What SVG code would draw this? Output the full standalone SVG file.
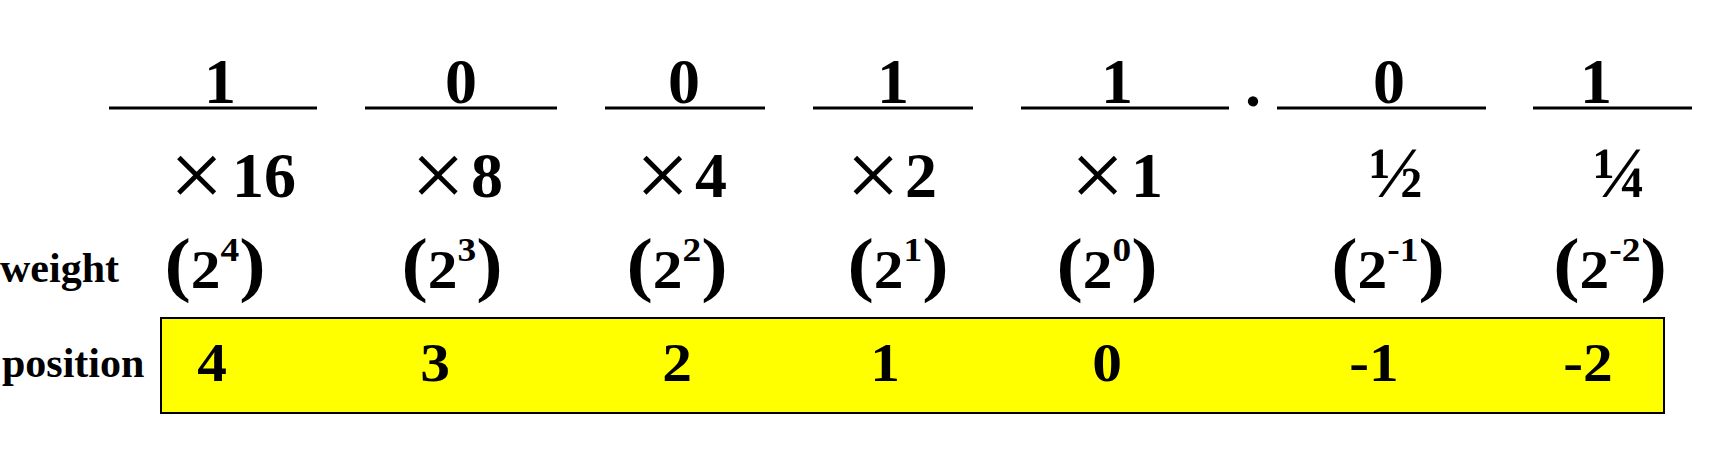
<svg xmlns="http://www.w3.org/2000/svg" width="1710" height="462" viewBox="0 0 1710 462">
<style>
.b{font-family:"Liberation Serif","Times New Roman",serif;font-weight:bold;fill:#000}
.dig{font-size:64px;text-anchor:middle}
.fr{font-size:72px;text-anchor:middle}
.x{font-family:"Liberation Serif","Times New Roman",serif;font-weight:normal;font-size:96px;fill:#000;text-anchor:middle}
.lbl{font-size:42px}
.pos{font-size:54px;text-anchor:middle}
.w{text-anchor:middle}
.p{font-size:72px}
.two{font-size:54px}
.sup{font-size:34px}
.ul{stroke:#000;stroke-width:3}
</style>
<rect width="1710" height="462" fill="#fff"/>
<g id="underlines">
<line class="ul" x1="109" y1="108" x2="317" y2="108"/>
<line class="ul" x1="365" y1="108" x2="557" y2="108"/>
<line class="ul" x1="605" y1="108" x2="765" y2="108"/>
<line class="ul" x1="813" y1="108" x2="973" y2="108"/>
<line class="ul" x1="1021" y1="108" x2="1229" y2="108"/>
<line class="ul" x1="1277" y1="108" x2="1486" y2="108"/>
<line class="ul" x1="1533" y1="108" x2="1692" y2="108"/>
</g>
<g id="bits">
<text class="b dig" x="220" y="103">1</text>
<text class="b dig" x="461" y="103">0</text>
<text class="b dig" x="684" y="103">0</text>
<text class="b dig" x="893" y="103">1</text>
<text class="b dig" x="1117" y="103">1</text>
<text class="b dig" x="1253" y="106">.</text>
<text class="b dig" x="1389" y="103">0</text>
<text class="b dig" x="1596" y="103">1</text>
</g>
<g id="multipliers">
<text class="x" x="196.5" y="207">×</text><text class="b dig" x="264" y="197">16</text>
<text class="x" x="438" y="207">×</text><text class="b dig" x="487" y="197">8</text>
<text class="x" x="662.5" y="207">×</text><text class="b dig" x="711" y="197">4</text>
<text class="x" x="873" y="207">×</text><text class="b dig" x="921" y="197">2</text>
<text class="x" x="1097.5" y="207">×</text><text class="b dig" x="1147" y="197">1</text>
<text class="b fr" x="1396" y="197">½</text>
<text class="b fr" x="1620" y="197">¼</text>
</g>
<g id="weights">
<text class="b lbl" x="0" y="282">weight</text>
<text class="b w" transform="translate(215,288) scale(1.1,1)"><tspan class="p">(</tspan><tspan class="two">2</tspan><tspan class="sup" dy="-27">4</tspan><tspan class="p" dy="27">)</tspan></text>
<text class="b w" transform="translate(452,288) scale(1.1,1)"><tspan class="p">(</tspan><tspan class="two">2</tspan><tspan class="sup" dy="-27">3</tspan><tspan class="p" dy="27">)</tspan></text>
<text class="b w" transform="translate(677,288) scale(1.1,1)"><tspan class="p">(</tspan><tspan class="two">2</tspan><tspan class="sup" dy="-27">2</tspan><tspan class="p" dy="27">)</tspan></text>
<text class="b w" transform="translate(898,288) scale(1.1,1)"><tspan class="p">(</tspan><tspan class="two">2</tspan><tspan class="sup" dy="-27">1</tspan><tspan class="p" dy="27">)</tspan></text>
<text class="b w" transform="translate(1107,288) scale(1.1,1)"><tspan class="p">(</tspan><tspan class="two">2</tspan><tspan class="sup" dy="-27">0</tspan><tspan class="p" dy="27">)</tspan></text>
<text class="b w" transform="translate(1388,288) scale(1.1,1)"><tspan class="p">(</tspan><tspan class="two">2</tspan><tspan class="sup" dy="-27">-1</tspan><tspan class="p" dy="27">)</tspan></text>
<text class="b w" transform="translate(1610,288) scale(1.1,1)"><tspan class="p">(</tspan><tspan class="two">2</tspan><tspan class="sup" dy="-27">-2</tspan><tspan class="p" dy="27">)</tspan></text>
</g>
<g id="positions">
<text class="b lbl" x="2" y="377">position</text>
<rect x="161" y="318" width="1503" height="95" fill="#ffff00" stroke="#000" stroke-width="2"/>
<text class="b pos" transform="translate(212,381) scale(1.1,1)">4</text>
<text class="b pos" transform="translate(435,381) scale(1.1,1)">3</text>
<text class="b pos" transform="translate(677,381) scale(1.1,1)">2</text>
<text class="b pos" transform="translate(885,381) scale(1.1,1)">1</text>
<text class="b pos" transform="translate(1107,381) scale(1.1,1)">0</text>
<text class="b pos" transform="translate(1374,381) scale(1.1,1)">-1</text>
<text class="b pos" transform="translate(1588,381) scale(1.1,1)">-2</text>
</g>
</svg>
